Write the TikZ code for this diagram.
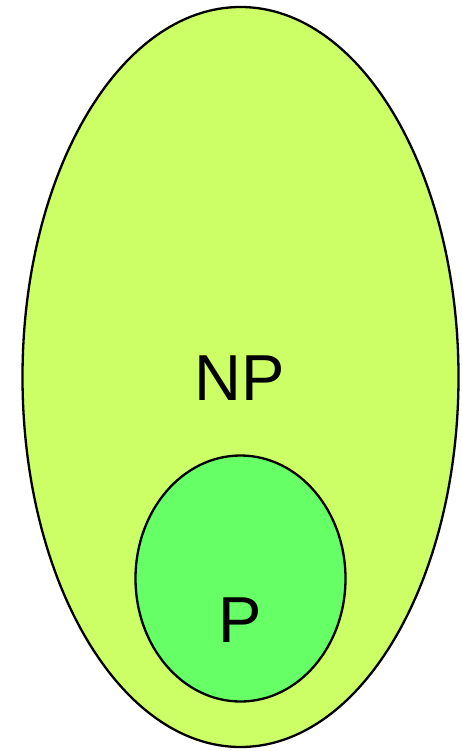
\documentclass[tikz,border=0pt]{standalone}
\usepackage{fontspec}
\setmainfont{Liberation Sans}
\definecolor{outerfill}{HTML}{CCFF66}
\definecolor{innerfill}{HTML}{66FF66}
\begin{document}
\begin{tikzpicture}[x=1pt,y=-1pt,
  blob/.style={draw=black,line width=2.3pt},
  lbl/.style={font=\fontsize{65}{65}\selectfont,text=black,inner sep=0pt}]
\useasboundingbox (0,0) rectangle (461,751);
\draw[blob,fill=outerfill] (240.5,377) ellipse [x radius=218, y radius=370];
\draw[blob,fill=innerfill] (240.5,578.5) ellipse [x radius=105, y radius=123];
\node[lbl] (np) at (240,378) {NP};
\node[lbl] (p) at (240,620) {P};
\end{tikzpicture}
\end{document}
